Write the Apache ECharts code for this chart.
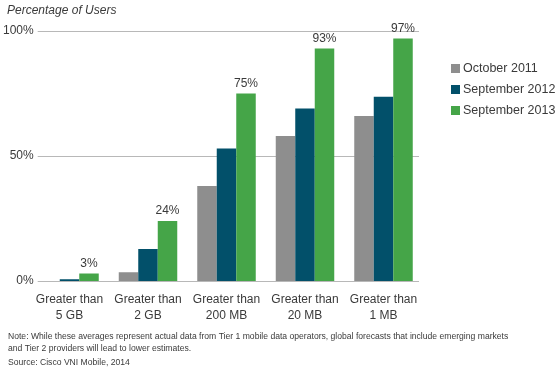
<!DOCTYPE html>
<html>
<head>
<meta charset="utf-8">
<script src="https://cdn.jsdelivr.net/npm/echarts@6/dist/echarts.min.js"></script>
<style>
html,body{margin:0;padding:0;background:#fff;}
#chart{width:558px;height:370px;}
</style>
</head>
<body>
<div id="chart"></div>
<script>
var categories = ['Greater than\n5 GB', 'Greater than\n2 GB', 'Greater than\n200 MB', 'Greater than\n20 MB', 'Greater than\n1 MB'];
var seriesNames = ['October 2011', 'September 2012', 'September 2013'];
var oct2011 = [0, 3.5, 38, 58, 66];
var sep2012 = [0.7, 12.8, 53, 69, 73.7];
var sep2013 = [3, 24, 75, 93, 97];
var yTicks = [0, 50, 100];

var FONT = '"Liberation Sans", Arial, sans-serif';
var TXT = '#3a3a3a';
var chart = echarts.init(document.getElementById('chart'), null, {renderer: 'canvas'});

chart.setOption({
  animation: false,
  backgroundColor: '#ffffff',
  textStyle: {fontFamily: FONT},
  title: [
    {text: 'Percentage of Users', left: 2, top: 0,
     textStyle: {fontSize: 12, fontStyle: 'italic', fontWeight: 'normal', color: TXT, fontFamily: FONT}},
    {text: 'Note: While these averages represent actual data from Tier 1 mobile data operators, global forecasts that include emerging markets\nand Tier 2 providers will lead to lower estimates.',
     left: 3, top: 326,
     textStyle: {fontSize: 8.6, fontWeight: 'normal', color: TXT, lineHeight: 11.5, fontFamily: FONT}},
    {text: 'Source: Cisco VNI Mobile, 2014', left: 3, top: 353,
     textStyle: {fontSize: 8.6, fontWeight: 'normal', color: TXT, fontFamily: FONT}}
  ],
  legend: {
    orient: 'vertical', left: 446, top: 57,
    itemWidth: 9, itemHeight: 9, itemGap: 8,
    icon: 'rect',
    data: seriesNames,
    textStyle: {fontSize: 12.5, color: TXT, fontFamily: FONT, padding: [0, 0, 0, -2]}
  },
  grid: [
    {left: 30.25, width: 392.5, top: 31, height: 250},
    {left: 35, width: 384, top: 31, height: 250}
  ],
  xAxis: [
    {type: 'category', gridIndex: 0, data: categories,
     axisLine: {show: false}, axisTick: {show: false},
     axisLabel: {interval: 0, fontSize: 12, color: TXT, lineHeight: 16, margin: 11, fontFamily: FONT}},
    {type: 'category', gridIndex: 1, data: categories, show: false}
  ],
  yAxis: [
    {type: 'value', gridIndex: 0, min: 0, max: 100, interval: 50, show: false, splitLine: {show: false}},
    {type: 'value', gridIndex: 1, min: 0, max: 100, interval: 50,
     axisLine: {show: false}, axisTick: {show: false},
     axisLabel: {formatter: '{value}%', fontSize: 12, color: TXT, margin: 4, fontFamily: FONT},
     splitLine: {lineStyle: {color: '#b8b8b8', width: 1}}}
  ],
  series: [
    {name: seriesNames[0], type: 'bar', xAxisIndex: 0, yAxisIndex: 0, data: oct2011,
     barWidth: 19.5, barGap: '0%', itemStyle: {color: '#8e8e8e'}},
    {name: seriesNames[1], type: 'bar', xAxisIndex: 0, yAxisIndex: 0, data: sep2012,
     barWidth: 19.5, barGap: '0%', itemStyle: {color: '#02506a'}},
    {name: seriesNames[2], type: 'bar', xAxisIndex: 0, yAxisIndex: 0, data: sep2013,
     barWidth: 19.5, barGap: '0%', itemStyle: {color: '#45a548'},
     label: {show: true, position: 'top', distance: 4, formatter: '{c}%', fontSize: 12, color: TXT, fontFamily: FONT}},
    {type: 'bar', xAxisIndex: 1, yAxisIndex: 1, data: [], silent: true}
  ]
});
</script>
</body>
</html>
